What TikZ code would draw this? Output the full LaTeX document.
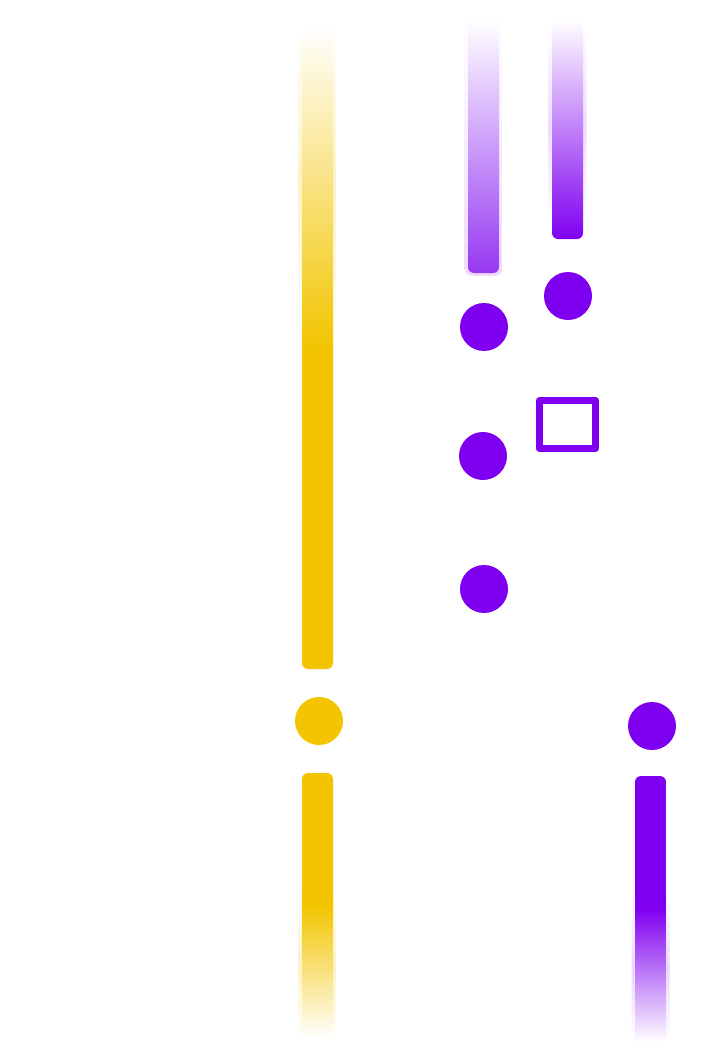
\documentclass[tikz,border=0pt]{standalone}
\begin{document}
\begin{tikzpicture}[x=1pt,y=-1pt,
  every node/.style={inner sep=0pt,outer sep=0pt},
  dot/.style={circle,minimum size=48pt},
  bar/.style={rectangle,rounded corners=6pt,minimum width=31pt},
  halo/.style={rectangle,rounded corners=8pt,minimum width=38pt}]
\definecolor{vio}{HTML}{7F00F0}
\definecolor{gold}{HTML}{F2C500}
\definecolor{vioB}{HTML}{9638F2}
\fill[white] (0,0) rectangle (709,1063);
\useasboundingbox (0,0) rectangle (709,1063);
% yellow column
\node[halo,minimum height=320pt,top color=white,bottom color=white,middle color=gold!22] (yh1) at (317.5,185) {};
\node[bar,minimum height=644pt,top color=white,bottom color=gold,middle color=gold] (yb1) at (317.5,347) {};
\node[dot,fill=gold] (yc) at (319,721) {};
\node[halo,minimum height=150pt,top color=white,bottom color=white,middle color=gold!22] (yh2) at (317.5,965) {};
\node[bar,minimum height=265pt,top color=gold,bottom color=white,middle color=gold] (yb2) at (317.5,905.5) {};
% purple bar 1 with halo
\node[halo,minimum width=38pt,minimum height=260pt,top color=white,bottom color=vio!14] (ph1) at (483.5,146) {};
\node[bar,minimum height=253pt,top color=white,bottom color=vioB] (pb1) at (483.5,146.5) {};
% purple bar 2
\node[halo,minimum height=200pt,top color=white,bottom color=white,middle color=vio!14] (ph2) at (567.5,125) {};
\node[bar,minimum height=219pt,top color=white,bottom color=vio] (pb2) at (567.5,129.5) {};
% purple dots
\node[dot,fill=vio] (d1) at (568,296) {};
\node[dot,fill=vio] (d2) at (484,327) {};
\node[dot,fill=vio] (d3) at (483,456) {};
\node[dot,fill=vio] (d4) at (484,589) {};
\node[rectangle,draw=vio,line width=7pt,line join=round,minimum width=56pt,minimum height=48pt] (sq) at (567.5,424.5) {};
% right purple column
\node[dot,fill=vio] (pc) at (652,726) {};
\node[halo,minimum height=150pt,top color=white,bottom color=white,middle color=vio!16] (ph3) at (650.5,968) {};
\node[bar,minimum height=266pt,top color=vio,bottom color=white,middle color=vio] (pb3) at (650.5,909) {};
\end{tikzpicture}
\end{document}
